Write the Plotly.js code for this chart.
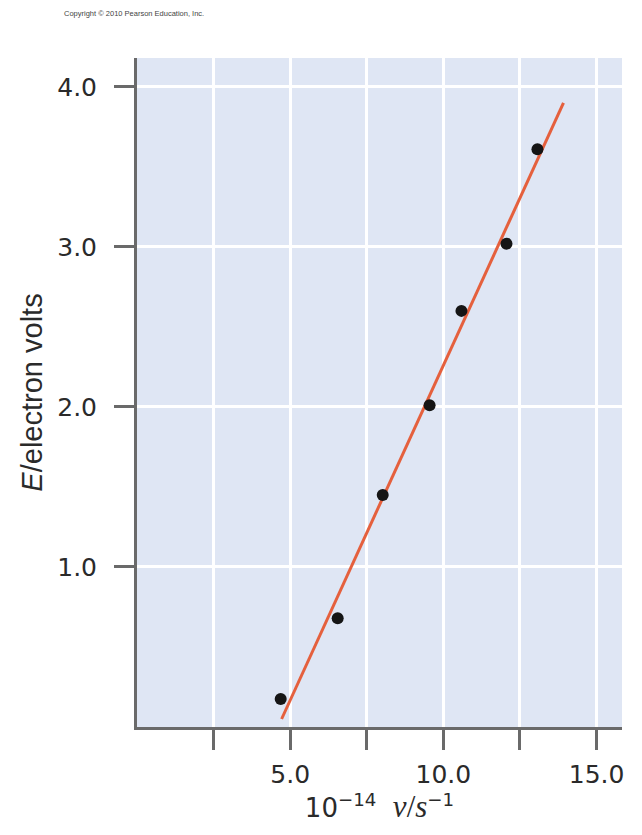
<!DOCTYPE html>
<html>
<head>
<meta charset="utf-8">
<script src="https://cdn.plot.ly/plotly-3.0.1.min.js"></script>
<style>html,body{margin:0;padding:0;background:#fff;}#chart{width:642px;height:835px;}</style>
</head>
<body>
<div id="chart"></div>
<script>
// Measured points: frequency (10^14 s^-1) vs energy (eV)
const freq = [4.69, 6.55, 8.02, 9.55, 10.59, 12.06, 13.07];
const energy = [0.175, 0.68, 1.45, 2.01, 2.60, 3.02, 3.61];
// Best-fit line endpoints as drawn
const fitX = [4.72, 13.92];
const fitY = [0.05, 3.90];
// Tick definitions
const xTickVals = [2.5, 5, 7.5, 10, 12.5, 15];
const xTickText = ["", "5.0", "", "10.0", "", "15.0"];
const yTickVals = [1, 2, 3, 4];
const yTickText = ["1.0", "2.0", "3.0", "4.0"];

const tickFont = "DejaVu Sans, sans-serif";
const labelFont = "Liberation Sans, Arial, sans-serif";

const traces = [
  {x: fitX, y: fitY, type: "scatter", mode: "lines",
   line: {color: "#e5603d", width: 3}, hoverinfo: "skip"},
  {x: freq, y: energy, type: "scatter", mode: "markers",
   marker: {color: "#151515", size: 12}}
];

const layout = {
  width: 642, height: 835,
  margin: {l: 137, r: 20, t: 58, b: 108},
  paper_bgcolor: "#ffffff",
  plot_bgcolor: "#dfe6f4",
  showlegend: false,
  font: {family: labelFont, color: "#2a2a2a"},
  xaxis: {
    range: [0, 15.83], tickmode: "array", tickvals: xTickVals, ticktext: xTickText,
    showgrid: true, gridcolor: "#ffffff", gridwidth: 3, zeroline: false,
    showline: true, linecolor: "#6a6a6a", linewidth: 3,
    ticks: "outside", ticklen: 20, tickwidth: 3, tickcolor: "#6a6a6a",
    tickfont: {size: 25, color: "#2a2a2a", family: tickFont},
    ticklabelstandoff: 3,
    title: {text: "10<sup>−14</sup>  <span style='font-family:Liberation Serif,serif;font-size:31px'><i>ν</i>/<i>s</i></span><sup>−1</sup>",
            font: {size: 26, color: "#2a2a2a", family: tickFont}, standoff: 2}
  },
  yaxis: {
    range: [0, 4.18], tickmode: "array", tickvals: yTickVals, ticktext: yTickText,
    showgrid: true, gridcolor: "#ffffff", gridwidth: 3, zeroline: false,
    showline: true, linecolor: "#6a6a6a", linewidth: 3,
    ticks: "outside", ticklen: 20, tickwidth: 3, tickcolor: "#6a6a6a",
    tickfont: {size: 25, color: "#2a2a2a", family: tickFont},
    ticklabelstandoff: 12,
    title: {text: "<i>E</i>/electron volts", font: {size: 29, color: "#2a2a2a", family: labelFont}, standoff: 7}
  },
  annotations: [
    {xref: "paper", yref: "paper", x: -0.155, y: 1.0, xanchor: "left", yanchor: "bottom",
     yshift: 38, text: "Copyright © 2010 Pearson Education, Inc.", showarrow: false,
     font: {size: 7.5, color: "#444", family: labelFont}}
  ]
};

Plotly.newPlot("chart", traces, layout, {displayModeBar: false, staticPlot: true});
</script>
</body>
</html>
